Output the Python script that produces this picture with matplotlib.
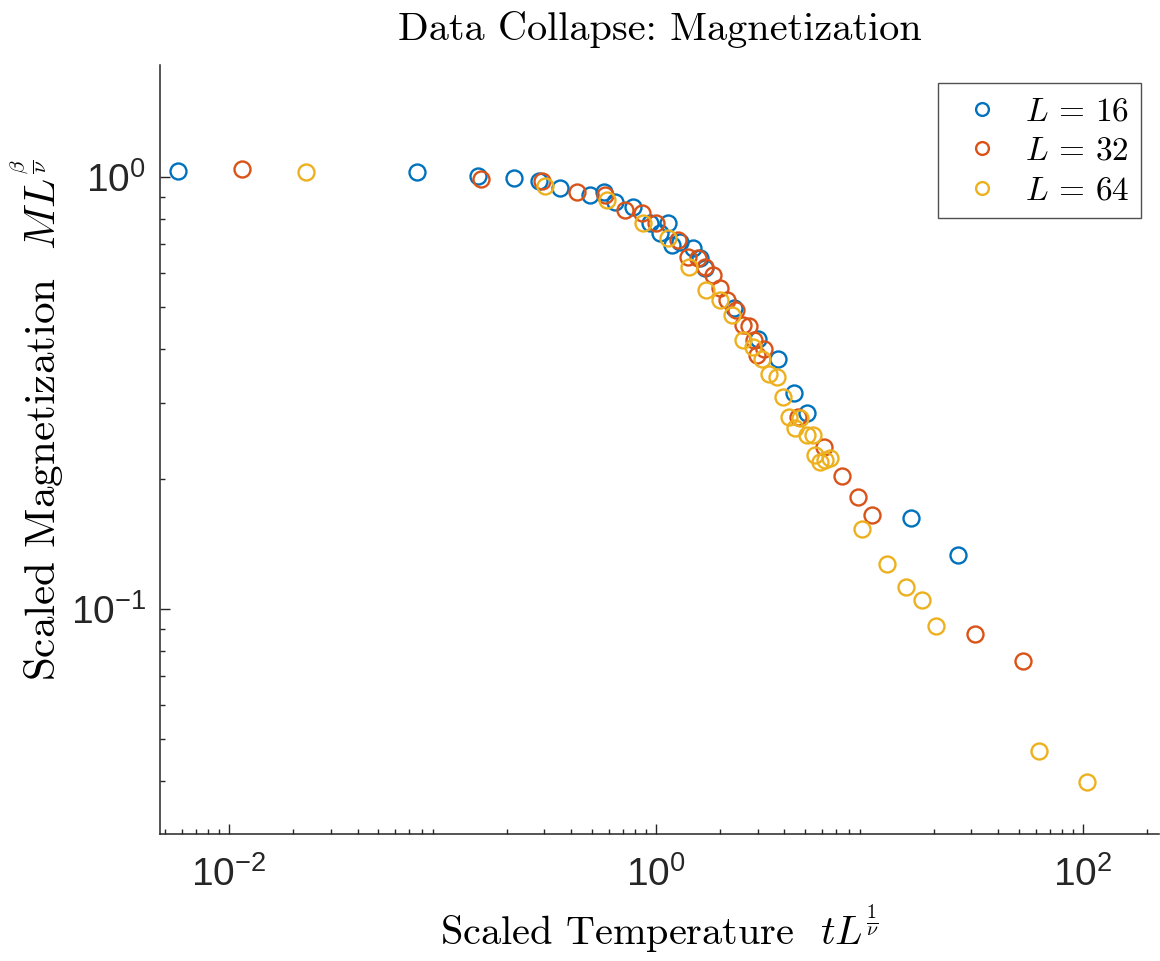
import numpy as np
import matplotlib
matplotlib.use("Agg")
import matplotlib.pyplot as plt
from matplotlib.ticker import LogLocator, NullFormatter

plt.rcParams['mathtext.fontset'] = 'cm'
plt.rcParams['axes.unicode_minus'] = False

# scaled temperature / scaled magnetization
t16 = [0.00577, 0.0760, 0.1467, 0.216, 0.283, 0.355, 0.491, 0.571, 0.643, 0.780,
       0.937, 1.044, 1.138, 1.188, 1.295, 1.490, 1.607, 1.696, 2.319, 3.004,
       3.728, 4.430, 5.097, 15.65, 25.97]
m16 = [1.033, 1.027, 1.005, 0.995, 0.979, 0.943, 0.908, 0.923, 0.875, 0.852,
       0.782, 0.742, 0.782, 0.696, 0.707, 0.685, 0.649, 0.616, 0.497, 0.422,
       0.379, 0.316, 0.284, 0.1624, 0.1334]

t32 = [0.0115, 0.1514, 0.2924, 0.4266, 0.577, 0.716, 0.860, 1.0, 1.268, 1.412,
       1.573, 1.696, 1.849, 1.994, 2.151, 2.370, 2.556, 2.727, 2.877, 2.972,
       3.206, 4.624, 6.121, 7.432, 8.834, 10.27, 31.20, 52.36]
m32 = [1.044, 0.989, 0.979, 0.923, 0.908, 0.839, 0.825, 0.782, 0.715, 0.653,
       0.649, 0.619, 0.593, 0.553, 0.519, 0.492, 0.4544, 0.452, 0.4195, 0.387,
       0.3998, 0.278, 0.2371, 0.2032, 0.1816, 0.1650, 0.0875, 0.0758]

t64 = [0.02294, 0.302, 0.5896, 0.869, 1.138, 1.427, 1.715, 1.994, 2.270, 2.556,
       2.847, 3.136, 3.382, 3.688, 3.934, 4.198, 4.478, 4.726, 5.097, 5.438,
       5.556, 5.864, 6.189, 6.531, 9.224, 12.08, 14.82, 17.62, 20.49, 62.2, 104.4]
m64 = [1.027, 0.953, 0.885, 0.782, 0.7225, 0.619, 0.5477, 0.519, 0.4792, 0.4195,
       0.4042, 0.379, 0.3499, 0.3444, 0.3095, 0.278, 0.2624, 0.2768, 0.2529, 0.2529,
       0.2272, 0.2189, 0.2213, 0.2237, 0.1532, 0.1271, 0.1124, 0.1049, 0.0913, 0.0469, 0.0398]

series_labels = [r'$L\,=\,16$', r'$L\,=\,32$', r'$L\,=\,64$']
colors = ['#0072BD', '#D95319', '#EDB120']

xtick_vals = [1e-2, 1e0, 1e2]
xtick_labels = [r'$\mathregular{10^{-2}}$', r'$\mathregular{10^{0}}$', r'$\mathregular{10^{2}}$']
ytick_vals = [1e-1, 1e0]
ytick_labels = [r'$\mathregular{10^{-1}}$', r'$\mathregular{10^{0}}$']

fig = plt.figure(figsize=(11.6, 9.61), dpi=100)
ax = fig.add_axes([0.1379, 0.1322, 0.8612, 0.8002])

for t, m, lab, c in zip([t16, t32, t64], [m16, m32, m64], series_labels, colors):
    ax.plot(t, m, 'o', mfc='none', mec=c, ms=11.5, mew=1.7, label=lab)

ax.set_xscale('log')
ax.set_yscale('log')
ax.set_xlim(0.004751, 227)
ax.set_ylim(0.03014, 1.816)

ax.set_xticks(xtick_vals, labels=xtick_labels)
ax.set_yticks(ytick_vals, labels=ytick_labels)
ax.xaxis.set_minor_locator(LogLocator(base=10, subs=np.arange(2, 10), numticks=20))
ax.yaxis.set_minor_locator(LogLocator(base=10, subs=np.arange(2, 10), numticks=20))
ax.xaxis.set_minor_formatter(NullFormatter())
ax.yaxis.set_minor_formatter(NullFormatter())

axcol = '#262626'
for side in ['top', 'right']:
    ax.spines[side].set_visible(False)
for side in ['left', 'bottom']:
    ax.spines[side].set_color(axcol)
    ax.spines[side].set_linewidth(1.1)
ax.tick_params(which='both', direction='in', colors=axcol, width=1.0)
ax.tick_params(which='major', length=7.2, labelsize=28)
ax.tick_params(axis='x', which='major', pad=16)
ax.tick_params(axis='y', which='major', pad=10)
ax.tick_params(which='minor', length=3.6)
for lbl in ax.get_xticklabels() + ax.get_yticklabels():
    lbl.set_fontfamily('Liberation Sans')

ax.set_title('Data Collapse: Magnetization', fontfamily='cmr10', fontsize=29, pad=18)
ax.set_xlabel(r'Scaled Temperature  $tL^{\frac{1}{\nu}}$', fontfamily='cmr10', fontsize=29, labelpad=6)
ax.set_ylabel(r'Scaled Magnetization  $ML^{\frac{\beta}{\nu}}$', fontfamily='cmr10', fontsize=31)
ax.yaxis.set_label_coords(-0.094, 0.538)

leg = ax.legend(loc='upper right', bbox_to_anchor=(0.982, 0.977), fontsize=24, frameon=True,
                fancybox=False, edgecolor=axcol, handletextpad=0.35, borderpad=0.35,
                labelspacing=0.2, markerscale=0.8, handlelength=1.9, borderaxespad=0)
leg.get_frame().set_linewidth(1.0)

fig.savefig('out.png', dpi=100)
